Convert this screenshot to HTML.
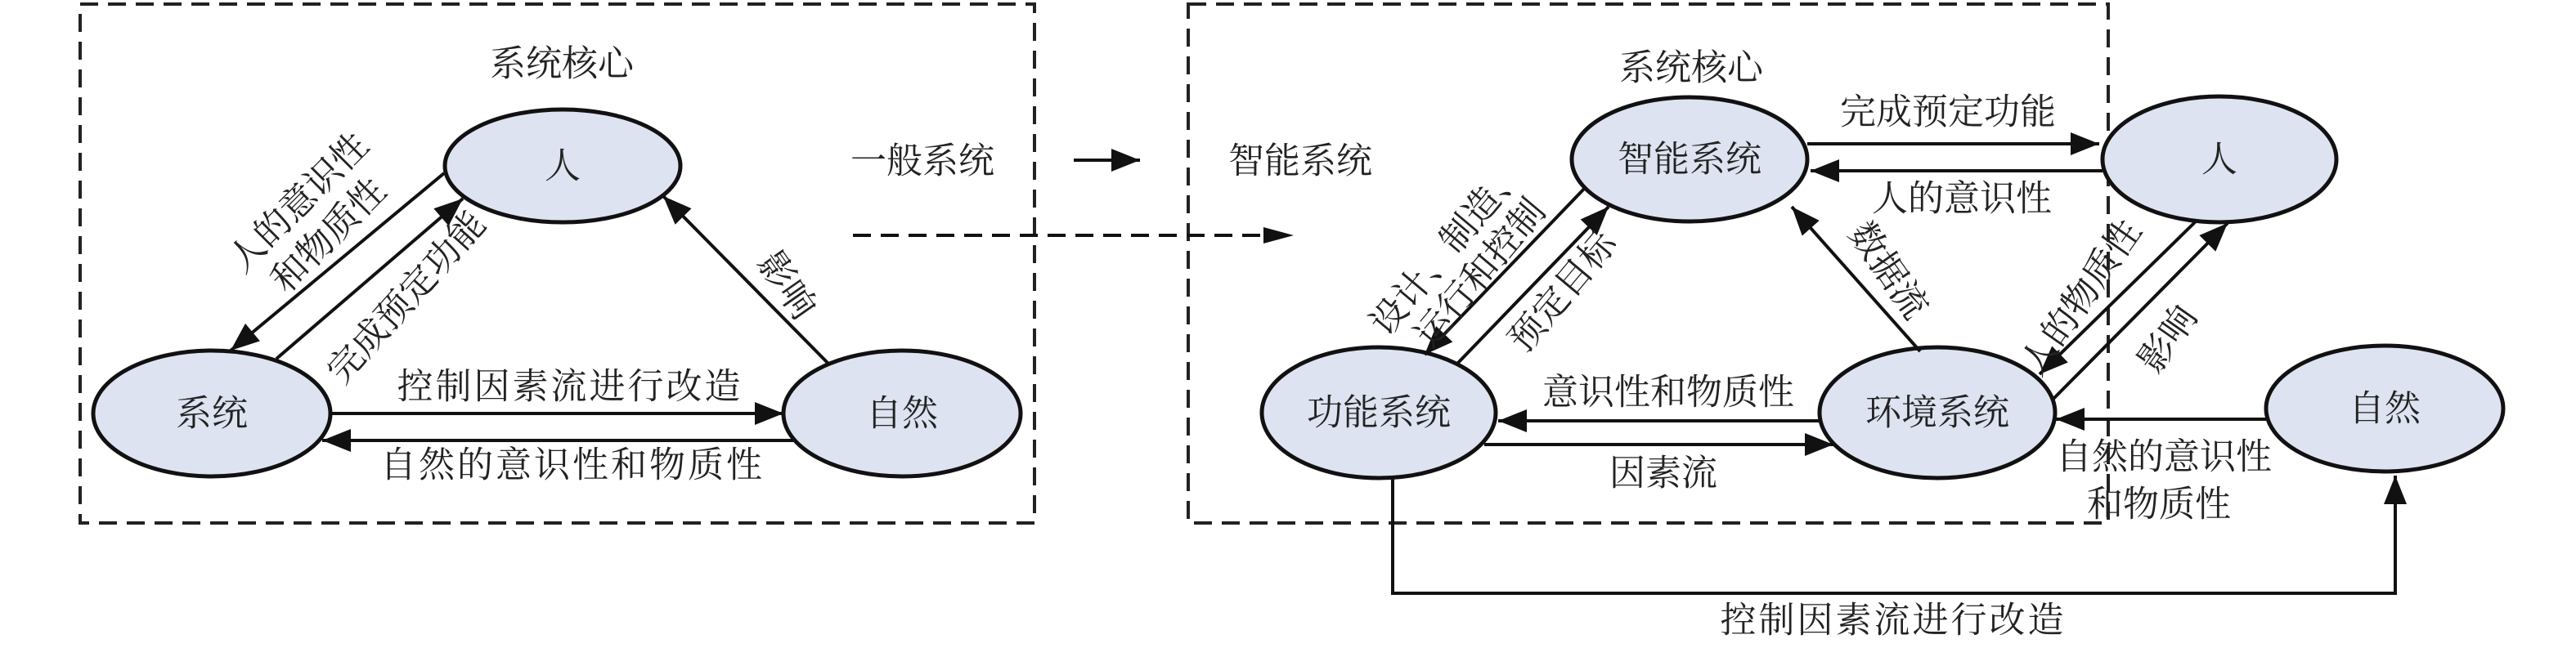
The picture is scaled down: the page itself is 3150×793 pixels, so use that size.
<!DOCTYPE html>
<html><head><meta charset="utf-8"><style>
html,body{margin:0;padding:0;background:#fff;}
svg{display:block;}
text{font-family:"Liberation Serif","Noto Serif CJK SC","Noto Sans CJK SC",serif;font-size:44px;fill:#222;}
</style></head><body>
<svg width="3150" height="793" viewBox="0 0 3150 793" xmlns="http://www.w3.org/2000/svg">
<defs>
<marker id="a" markerWidth="12" markerHeight="10" refX="11" refY="5" orient="auto" markerUnits="userSpaceOnUse" viewBox="0 0 12 10">
</marker>
<marker id="h" viewBox="0 0 10 8" refX="10" refY="4" markerWidth="36" markerHeight="28" markerUnits="userSpaceOnUse" orient="auto"><path d="M0,0 L10,4 L0,8 z" fill="#111"/></marker>
</defs>
<g fill="none" stroke="#222" stroke-width="4" stroke-dasharray="22,12">
<rect x="98" y="5" width="1167" height="635"/>
<rect x="1453" y="5" width="1125" height="635"/>
</g>
<g fill="#dde3f0" stroke="#111" stroke-width="5">
<ellipse cx="688" cy="203" rx="144" ry="69"/>
<ellipse cx="259" cy="506" rx="145" ry="77"/>
<ellipse cx="1103" cy="506" rx="145" ry="77"/>
<ellipse cx="2066" cy="195" rx="144" ry="76"/>
<ellipse cx="2714" cy="195" rx="143" ry="77"/>
<ellipse cx="1686" cy="505" rx="143" ry="80"/>
<ellipse cx="2369" cy="505" rx="144" ry="80"/>
<ellipse cx="2916" cy="500" rx="145" ry="77"/>
</g>
<g stroke="#111" stroke-width="4" fill="none" marker-end="url(#h)">
<line x1="404" y1="506" x2="958" y2="506"/>
<line x1="970" y1="539" x2="394" y2="539"/>
<line x1="543" y1="212" x2="282" y2="429"/>
<line x1="338" y1="439" x2="566" y2="243"/>
<line x1="1013" y1="445" x2="811" y2="240"/>
<line x1="2210" y1="176" x2="2567" y2="176"/>
<line x1="2571" y1="209" x2="2214" y2="209"/>
<line x1="2225" y1="515" x2="1832" y2="515"/>
<line x1="1815" y1="544" x2="2242" y2="544"/>
<line x1="2771" y1="513" x2="2514" y2="513"/>
<line x1="1939" y1="229" x2="1742" y2="434"/>
<line x1="1782" y1="445" x2="1967" y2="253"/>
<line x1="2348" y1="430" x2="2191" y2="253"/>
<line x1="2685" y1="271" x2="2494" y2="458"/>
<line x1="2511" y1="488" x2="2724" y2="273"/>
<line x1="1313" y1="196" x2="1394" y2="196"/>
<polyline points="1703,584 1703,726 2929,726 2929,582"/>
</g>
<line x1="1043" y1="288" x2="1562" y2="288" stroke="#111" stroke-width="4" stroke-dasharray="22,12"/>
<path d="M1545,278 L1582,288 L1545,298 z" fill="#111"/>
<g text-anchor="middle" dominant-baseline="central">
<text x="687" y="78">系统核心</text>
<text x="1128" y="197">一般系统</text>
<text x="688" y="203">人</text>
<text x="259" y="506">系统</text>
<text x="1103" y="506">自然</text>
<text x="697" y="473" letter-spacing="3">控制因素流进行改造</text>
<text x="700" y="569" letter-spacing="3">自然的意识性和物质性</text>
<text transform="translate(365,248) rotate(-45)">人的意识性</text>
<text transform="translate(402,288) rotate(-45)">和物质性</text>
<text transform="translate(497,364) rotate(-48)">完成预定功能</text>
<text transform="translate(962,349) rotate(55)">影响</text>
<text x="2068" y="83">系统核心</text>
<text x="1590" y="197">智能系统</text>
<text x="2066" y="195">智能系统</text>
<text x="2714" y="195">人</text>
<text x="1686" y="505">功能系统</text>
<text x="2369" y="505">环境系统</text>
<text x="2916" y="500">自然</text>
<text x="2382" y="137">完成预定功能</text>
<text x="2399" y="243">人的意识性</text>
<text x="2040" y="480">意识性和物质性</text>
<text x="2034" y="579">因素流</text>
<text x="2646" y="559">自然的意识性</text>
<text x="2640" y="617">和物质性</text>
<text x="2315" y="759" letter-spacing="3">控制因素流进行改造</text>
<text transform="translate(1770,303) rotate(-50)">设计、制造、</text>
<text transform="translate(1810,334) rotate(-50)">运行和控制</text>
<text transform="translate(1911,357) rotate(-50)">预定目标</text>
<text transform="translate(2309,331) rotate(55)">数据流</text>
<text transform="translate(2545,364) rotate(-55)">人的物质性</text>
<text transform="translate(2651,415) rotate(-55)">影响</text>
</g>
</svg>
</body></html>
